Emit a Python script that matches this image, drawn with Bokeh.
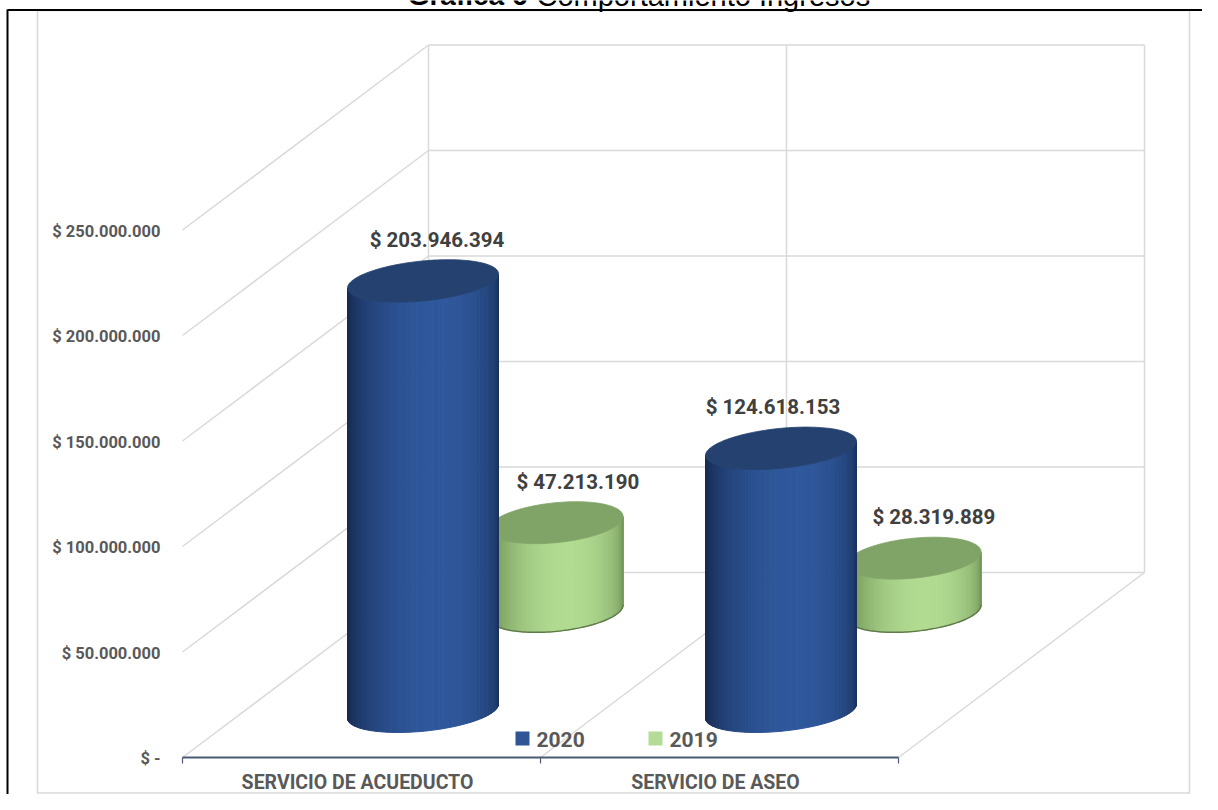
import numpy as np
from bokeh.plotting import figure
from bokeh.models import Range1d, ColumnDataSource
from bokeh.core.properties import value
from bokeh.embed import file_html
from bokeh.resources import INLINE

# ---------------- data ----------------
categories = ["SERVICIO DE ACUEDUCTO", "SERVICIO DE ASEO"]
series_names = ["2020", "2019"]
values_2020 = [203946394, 124618153]
values_2019 = [47213190, 28319889]
y_ticks = [0, 50000000, 100000000, 150000000, 200000000, 250000000]
title_bold = "Gráfica 6"
title_rest = "Comportamiento Ingresos"

# ---------------- layout / projection constants ----------------
W, H = 1202, 794
FONT = value("Roboto")
ORX, ORY = 182.0, 757.0        # front-left corner of floor
CAT_W = 358.0                   # px per category along the front
DX, DY = 246.0, -185.0          # depth vector (front -> back)
PX_PER_UNIT = 2.11e-6           # px per currency unit (vertical)
SHEAR = -0.094                  # ellipse tilt
YMAX = y_ticks[-1]


def proj(c, d, v):
    return ORX + CAT_W * c + DX * d, ORY + DY * d - PX_PER_UNIT * v


def fmt(v):
    return "$ -" if v == 0 else "$ " + f"{v:,}".replace(",", ".")


def hexrgb(h):
    h = h.lstrip("#")
    return tuple(int(h[i:i + 2], 16) for i in (0, 2, 4))


def mix(c1, c2, t):
    a, b = hexrgb(c1), hexrgb(c2)
    return "#%02x%02x%02x" % tuple(int(round(x + (y - x) * t)) for x, y in zip(a, b))


p = figure(width=W, height=H, x_range=Range1d(0, W), y_range=Range1d(H, 0),
           output_backend="svg", toolbar_location=None, min_border=0,
           background_fill_color="white", border_fill_color="white")
p.axis.visible = False
p.grid.visible = False
p.outline_line_color = None

GRID = "#D9D9D9"

# chart border (light gray)
p.quad(left=[37], right=[1189], top=[10], bottom=[H - 1.5], fill_color=None,
       line_color=GRID, line_width=1.5)

# ---------------- walls & floor ----------------
ncat = len(categories)
gx0, gy0, gx1, gy1 = [], [], [], []
for v in y_ticks:
    fx, fy = proj(0, 0, v)
    bx, by = proj(0, 1, v)
    ex, ey = proj(ncat, 1, v)
    gx0.append(fx); gy0.append(fy); gx1.append(bx); gy1.append(by)   # left wall
    gx0.append(bx); gy0.append(by); gx1.append(ex); gy1.append(ey)   # back wall
for c in range(ncat + 1):
    bx, by = proj(c, 1, 0)
    tx, ty = proj(c, 1, YMAX)
    gx0.append(bx); gy0.append(by); gx1.append(tx); gy1.append(ty)
    if c > 0:
        fx, fy = proj(c, 0, 0)
        gx0.append(fx); gy0.append(fy); gx1.append(bx); gy1.append(by)
p.segment(x0=gx0, y0=gy0, x1=gx1, y1=gy1, line_color=GRID, line_width=1.5)

# ---------------- cylinders ----------------
rows = [
    dict(vals=values_2020, depth=0.25, scale=1.0, dark="#14264A", light="#2F589C",
         cap="#25416F", rim=None, legend="#2F5597", ldx=[14, -8]),
    dict(vals=values_2019, depth=0.79, scale=0.89, dark="#5E7E46", light="#B1DB91",
         cap="#80A367", rim="#5F7B49", legend="#B4DC97", ldx=[22, 20]),
]

label_x, label_y, label_t = [], [], []


def draw_cyl(cx, cyb, cyt, rx, ry, row, n=70):
    th = np.linspace(-np.pi / 2, np.pi / 2, n + 1)
    u = np.sin(th)
    xs, ys, cols = [], [], []
    for i in range(n):
        u0, u1 = u[i], u[i + 1]
        tm = 0.5 * (th[i] + th[i + 1])
        inten = 0.12 + 0.88 * max(0.0, np.cos(tm - 0.18)) ** 1.2
        col = mix(row["dark"], row["light"], inten)
        f0 = ry * np.sqrt(max(0.0, 1 - u0 * u0))
        f1 = ry * np.sqrt(max(0.0, 1 - u1 * u1))
        x0, x1 = cx + rx * u0, cx + rx * u1
        s0, s1 = SHEAR * rx * u0, SHEAR * rx * u1
        xs.append([x0, x1, x1, x0])
        ys.append([cyt + f0 + s0, cyt + f1 + s1, cyb + f1 + s1, cyb + f0 + s0])
        cols.append(col)
    src = ColumnDataSource(dict(xs=xs, ys=ys, c=cols))
    p.patches("xs", "ys", source=src, fill_color="c", line_color="c", line_width=1)
    if row["rim"]:
        uu = np.sin(np.linspace(-np.pi / 2, np.pi / 2, 80))
        p.line(cx + rx * uu, cyb + ry * np.sqrt(1 - uu * uu) + SHEAR * rx * uu,
               line_color=row["rim"], line_width=1.5)
    t = np.linspace(0, 2 * np.pi, 120)
    p.patch(cx + rx * np.cos(t), cyt + ry * np.sin(t) + SHEAR * rx * np.cos(t),
            fill_color=row["cap"], line_color=row["cap"], line_width=0.8)


for row in reversed(rows):          # back row first
    for i, v in enumerate(row["vals"]):
        cx, cyb = proj(i + 0.5, row["depth"], 0)
        cyt = cyb - PX_PER_UNIT * row["scale"] * v
        rx = 75.5 * row["scale"]
        draw_cyl(cx, cyb, cyt, rx, 20.0, row)
        label_x.append(cx + row["ldx"][i])
        label_y.append(cyt - 41)
        label_t.append(fmt(v))

p.text(x=label_x, y=label_y, text=label_t, text_font=FONT, text_font_style="bold",
       text_font_size="20.5px", text_color="#404040", text_align="center",
       text_baseline="middle")

# ---------------- value axis labels ----------------
p.text(x=[160] * len(y_ticks), y=[proj(0, 0, v)[1] + 1 for v in y_ticks],
       text=[fmt(v) for v in y_ticks], text_font=FONT, text_font_style="bold",
       text_font_size="16.5px", text_color="#595959", text_align="right",
       text_baseline="middle")

# ---------------- category axis ----------------
ax0 = proj(0, 0, 0)
ax1 = proj(ncat, 0, 0)
p.segment(x0=[ax0[0]], y0=[ax0[1]], x1=[ax1[0]], y1=[ax1[1]],
          line_color="#4A5A76", line_width=1.8)
tick_x = [proj(c, 0, 0)[0] for c in range(ncat + 1)]
p.segment(x0=tick_x, y0=[ORY] * len(tick_x), x1=tick_x, y1=[ORY + 6] * len(tick_x),
          line_color="#4A5A76", line_width=1.2)
p.text(x=[proj(i + 0.5, 0, 0)[0] - 4 for i in range(ncat)], y=[782] * ncat,
       text=categories, text_font=FONT, text_font_style="bold",
       text_font_size="19.5px", text_color="#595959", text_align="center",
       text_baseline="middle")

# ---------------- legend ----------------
leg_x = [522, 655]
p.rect(x=leg_x, y=[738, 738], width=14, height=14,
       fill_color=[r["legend"] for r in rows], line_color=None)
p.text(x=[x + 14 for x in leg_x], y=[739, 739], text=series_names, text_font=FONT,
       text_font_style="bold", text_font_size="21px", text_color="#595959",
       text_align="left", text_baseline="middle")

# ---------------- title (cut off at the top, as in the source) ----------------
p.text(x=[527], y=[-5], text=[title_bold], text_font=value("Liberation Sans"),
       text_font_style="bold", text_font_size="28px", text_color="#000000",
       text_align="right", text_baseline="alphabetic")
p.text(x=[536], y=[-5], text=[title_rest], text_font=value("Liberation Sans"),
       text_font_size="29px", text_color="#000000",
       text_align="left", text_baseline="alphabetic")

# outer document frame (black)
p.segment(x0=[7, 7], y0=[9.5, 9], x1=[W, 7], y1=[9.5, H],
          line_color="black", line_width=2)

open("out.html", "w").write(file_html(p, INLINE))
